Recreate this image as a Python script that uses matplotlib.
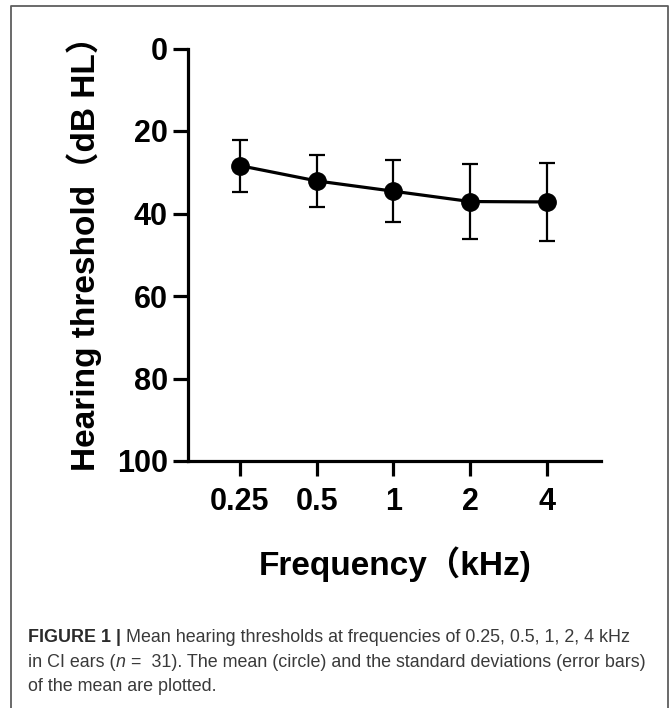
import matplotlib
matplotlib.use("Agg")
import matplotlib.pyplot as plt
from matplotlib.lines import Line2D

# values (dB HL, y axis runs downwards)
freq_labels = ["0.25", "0.5", "1", "2", "4"]
mean_db = [28.4, 32.1, 34.6, 37.1, 37.2]
sd_db = [6.3, 6.3, 7.5, 9.0, 9.4]
y_ticks = [0, 20, 40, 60, 80, 100]

x_title = "Frequency\uff08kHz)"
y_title = "Hearing threshold\uff08dB HL\uff09"

caption_lines = [
    [("FIGURE 1 | ", "bold"),
     ("Mean hearing thresholds at frequencies of 0.25, 0.5, 1, 2, 4 kHz", "normal")],
    [("in CI ears (", "normal"), ("n", "italic"),
     (" =  31). The mean (circle) and the standard deviations (error bars)", "normal")],
    [("of the mean are plotted.", "normal")],
]

W, H = 670, 708
plt.rcParams['font.family'] = ['Liberation Sans', 'Noto Sans CJK SC', 'DejaVu Sans']

fig = plt.figure(figsize=(W / 100, H / 100), dpi=100)
fig.patch.set_facecolor('white')

# frame around figure + caption (open at the bottom)
fig.add_artist(Line2D([11 / W, 11 / W, 668 / W, 668 / W], [0, 1 - 6 / H, 1 - 6 / H, 0],
                      transform=fig.transFigure, color='#5e5e5e', lw=1.3))

ax = fig.add_axes([188 / W, 1 - 461 / H, (601 - 188) / W, (461 - 48.5) / H])
x = list(range(1, len(freq_labels) + 1))
ax.errorbar(x, mean_db, yerr=sd_db, fmt='-o', color='black', lw=2.3,
            markersize=12.5, elinewidth=1.6, capsize=6, capthick=1.6, zorder=3)

ax.set_xlim(0.3225, 5.7036)
ax.set_ylim(100, 0)
ax.set_xticks(x)
ax.set_xticklabels(freq_labels)
ax.set_yticks(y_ticks)
for s in ['top', 'right']:
    ax.spines[s].set_visible(False)
for s in ['left', 'bottom']:
    ax.spines[s].set_linewidth(2.3)
ax.tick_params(axis='both', direction='out', length=11, width=2.3, labelsize=22)
ax.tick_params(axis='y', pad=3.5)
ax.tick_params(axis='x', pad=7.5)
for lab in ax.get_xticklabels() + ax.get_yticklabels():
    lab.set_fontweight('bold')

fig.text(84 / W, 1 - 245 / H, y_title, rotation=90, ha='center', va='center',
         fontsize=24, fontweight='bold')
fig.text(395 / W, 1 - 564 / H, x_title, ha='center', va='center',
         fontsize=24, fontweight='bold')

# caption, drawn piece by piece so bold / italic can sit inside one line
renderer = fig.canvas.get_renderer()
cap_size = 12.9
baselines = [642, 667, 691]


def piece_width(txt, weight, style):
    # pad with bars so leading/trailing spaces are counted
    t1 = fig.text(0, 0, "|" + txt + "|", fontsize=cap_size, fontweight=weight, fontstyle=style)
    t2 = fig.text(0, 0, "||", fontsize=cap_size, fontweight=weight, fontstyle=style)
    w = t1.get_window_extent(renderer).width - t2.get_window_extent(renderer).width
    t1.remove()
    t2.remove()
    return w


for pieces, yb in zip(caption_lines, baselines):
    xp = 28
    for txt, kind in pieces:
        weight = 'bold' if kind == 'bold' else 'normal'
        style = 'italic' if kind == 'italic' else 'normal'
        color = '#2b2b2b' if kind == 'bold' else '#3a3a3a'
        fig.text(xp / W, 1 - yb / H, txt, ha='left', va='baseline', fontsize=cap_size,
                 fontweight=weight, fontstyle=style, color=color)
        xp += piece_width(txt, weight, style)

fig.savefig("out.png", dpi=100, facecolor='white')
